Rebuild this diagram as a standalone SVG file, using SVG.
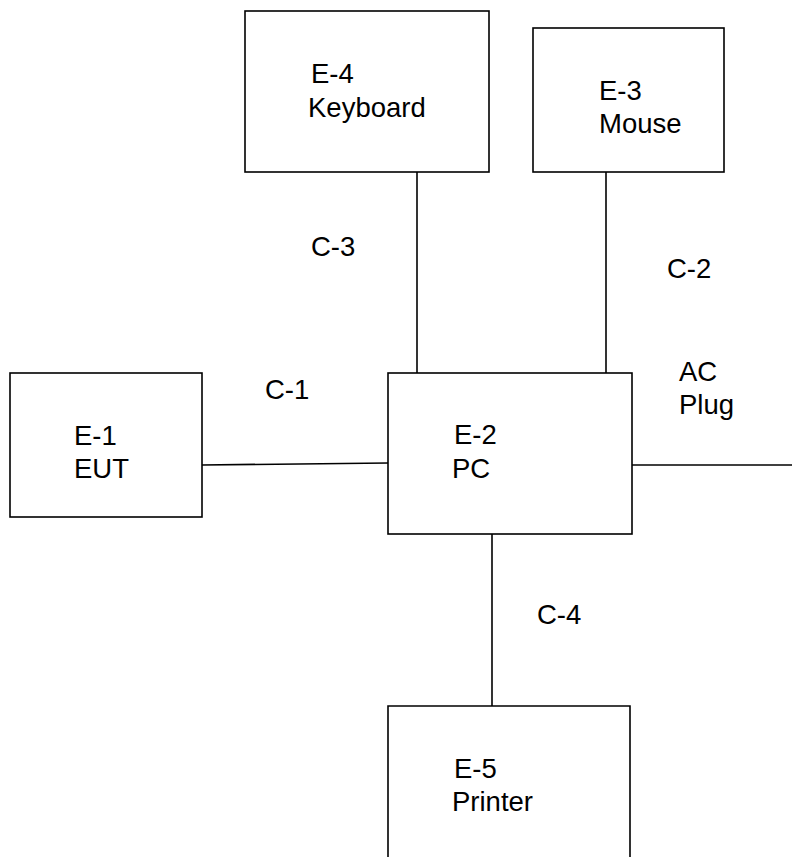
<svg xmlns="http://www.w3.org/2000/svg" width="792" height="859" viewBox="0 0 792 859">
<style>
.box{fill:#fff;stroke:#000;stroke-width:1.6}
.ln{stroke:#000;stroke-width:1.6;fill:none}
text{font-family:"Liberation Sans",Arial,sans-serif;font-size:27.5px;fill:#000}
</style>
<rect width="792" height="859" fill="#fff"/>
<g id="connectors">
<line class="ln" x1="417" y1="172" x2="417" y2="373"/>
<line class="ln" x1="606" y1="172" x2="606" y2="373"/>
<line class="ln" x1="202" y1="465" x2="388" y2="463"/>
<line class="ln" x1="632" y1="465" x2="792" y2="465"/>
<line class="ln" x1="492" y1="534" x2="492" y2="706"/>
<text x="265" y="399">C-1</text>
<text x="311" y="256">C-3</text>
<text x="667" y="278">C-2</text>
<text x="537" y="624">C-4</text>
<text x="679" y="381">AC</text>
<text x="679" y="414">Plug</text>
</g>
<g id="E-4">
<rect class="box" x="245" y="11" width="244" height="161"/>
<text x="311" y="83">E-4</text>
<text x="308" y="117">Keyboard</text>
</g>
<g id="E-3">
<rect class="box" x="533" y="28" width="191" height="144"/>
<text x="599" y="100">E-3</text>
<text x="599" y="133">Mouse</text>
</g>
<g id="E-1">
<rect class="box" x="10" y="373" width="192" height="144"/>
<text x="74" y="445">E-1</text>
<text x="74" y="478">EUT</text>
</g>
<g id="E-2">
<rect class="box" x="388" y="373" width="244" height="161"/>
<text x="454" y="444">E-2</text>
<text x="452" y="478">PC</text>
</g>
<g id="E-5">
<path class="ln" d="M388 857 V706 H630 V857"/>
<text x="454" y="778">E-5</text>
<text x="452" y="811">Printer</text>
</g>
</svg>
